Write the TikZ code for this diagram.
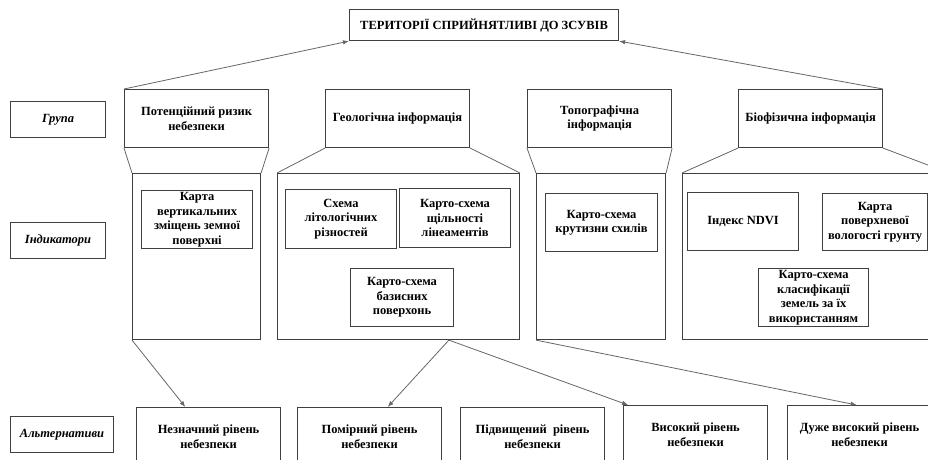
\documentclass[tikz,border=0pt]{standalone}
\usepackage{fontspec}
\setmainfont{Liberation Serif}
\usetikzlibrary{arrows.meta,calc}

\begin{document}
\begin{tikzpicture}[x=1pt, y=-1pt, >={Latex[length=6pt,width=4.5pt]},
  box/.style={draw=black!75, line width=1.1pt, align=center, inner sep=0pt, anchor=north west,
    font=\bfseries\fontsize{12.5}{14.5}\selectfont},
  lab/.style={box, minimum height=36pt, font=\bfseries\itshape\fontsize{12.5}{14.5}\selectfont},
  grp/.style={box, minimum width=144pt, minimum height=58pt},
  link/.style={black!60, line width=0.8pt}]
  \useasboundingbox (0,0) rectangle (928,459);
  \clip (0,0) rectangle (928,459);

  \node[box, minimum width=269pt, minimum height=31pt] (title) at (349,9) {ТЕРИТОРІЇ СПРИЙНЯТЛИВІ ДО ЗСУВІВ};

  \node[lab, minimum width=95pt] (group) at (10,101) {Група};
  \node[lab, minimum width=95pt] (indic) at (10,222) {Індикатори};
  \node[lab, minimum width=103pt] (altern) at (10,416) {Альтернативи};

  \node[grp] (risk) at (124,89) {Потенційний ризик\\небезпеки};
  \node[grp] (geol) at (325,89) {Геологічна інформація};
  \node[grp] (topo) at (527,89) {Топографічна\\інформація};
  \node[grp] (bio) at (738,89) {Біофізична інформація};

  \node[box, minimum width=128pt, minimum height=166pt] (fr1) at (132,173) {};
  \node[box, minimum width=242pt, minimum height=166pt] (fr2) at (277,173) {};
  \node[box, minimum width=129pt, minimum height=166pt] (fr3) at (536,173) {};
  \node[box, minimum width=266pt, minimum height=166pt] (fr4) at (682,173) {};

  \node[box, minimum width=111pt, minimum height=58pt] (vert) at (141,190) {Карта\\вертикальних\\зміщень земної\\поверхні};
  \node[box, minimum width=111pt, minimum height=59pt] (lito) at (285,189) {Схема\\літологічних\\різностей};
  \node[box, minimum width=111pt, minimum height=59pt] (linea) at (399,188) {Карто-схема\\щільності\\лінеаментів};
  \node[box, minimum width=103pt, minimum height=58pt] (basis) at (350,268) {Карто-схема\\базисних\\поверхонь};
  \node[box, minimum width=112pt, minimum height=58pt] (slope) at (545,193) {Карто-схема\\крутизни схилів};
  \node[box, minimum width=111pt, minimum height=58pt] (ndvi) at (687,192) {Індекс NDVI};
  \node[box, minimum width=105pt, minimum height=57pt] (moist) at (822,193) {Карта\\поверхневої\\вологості грунту};
  \node[box, minimum width=110pt, minimum height=58pt] (landuse) at (758,268) {Карто-схема\\класифікації\\земель за їх\\використанням};

  \node[grp] (lvl1) at (136,407) {Незначний рівень\\небезпеки};
  \node[grp] (lvl2) at (297,407) {Помірний рівень\\небезпеки};
  \node[grp] (lvl3) at (460,407) {Підвищений~ рівень\\небезпеки};
  \node[grp] (lvl4) at (623,405) {Високий рівень\\небезпеки};
  \node[grp] (lvl5) at (787,405) {Дуже високий рівень\\небезпеки};

  \path[link,->]
  (risk.north west) edge (title.south west)
  (bio.north east) edge (title.south east);

  \foreach \g/\f in {risk/fr1,geol/fr2,topo/fr3,bio/fr4}
    \path[link] (\g.south west) edge (\f.north west)
                (\g.south east) edge (\f.north east);

  \coordinate (geolout) at ($(fr2.south west)!0.707!(fr2.south east)$);
  \path[link,->]
  (fr1.south west) edge ($(lvl1.north west)!0.34!(lvl1.north east)$)
  (geolout) edge ($(lvl2.north west)!0.625!(lvl2.north east)$)
  (geolout) edge ($(lvl4.north west)!0.035!(lvl4.north east)$)
  (fr3.south west) edge ($(lvl5.north west)!0.48!(lvl5.north east)$);
\end{tikzpicture}
\end{document}
